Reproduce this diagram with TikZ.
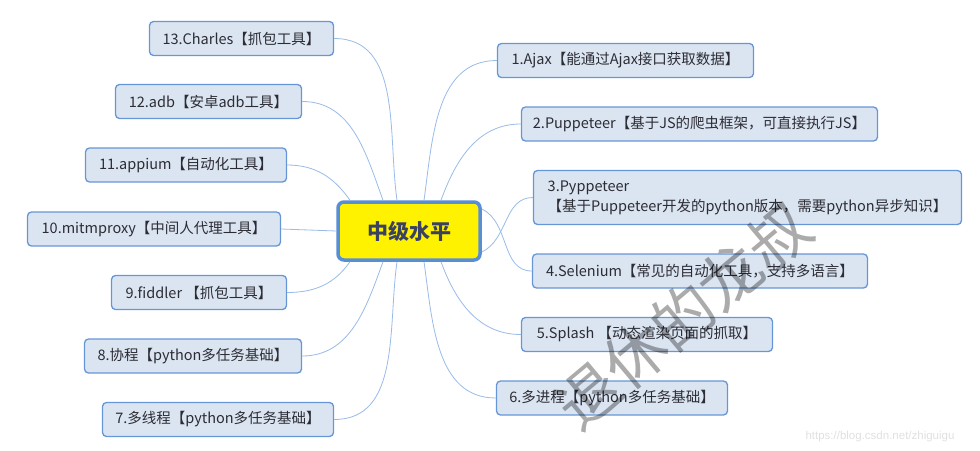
\documentclass[tikz,border=0pt]{standalone}
\usepackage{fontspec}
\newfontfamily\cjkfont{Noto Sans CJK SC}
\newfontfamily\urlfont{Liberation Sans}
\usepackage{xcolor}
\usepackage{tikz}

\definecolor{topicfill}{RGB}{219,229,242}
\definecolor{topicline}{RGB}{102,150,214}
\definecolor{branchline}{RGB}{152,187,232}
\definecolor{centreline}{RGB}{88,142,214}
\definecolor{centretext}{RGB}{58,66,96}
\definecolor{topictext}{RGB}{44,44,52}

\begin{document}
\begin{tikzpicture}[x=1pt,y=-1pt]
\tikzstyle{centre}=[rounded corners=6pt, draw=centreline, line width=3.5pt, fill=yellow, text=centretext, font=\cjkfont\bfseries\fontsize{21}{24}\selectfont, minimum width=142pt, minimum height=58pt]
\tikzstyle{topic}=[rounded corners=4pt, draw=topicline, line width=1.3pt, fill=topicfill, text=topictext, font=\cjkfont\fontsize{14.5}{20}\selectfont, minimum height=34pt, align=left]
\tikzstyle{branch}=[draw=branchline, line width=0.8pt]
\tikzstyle{watermark}=[text=black, text opacity=0.33, font=\cjkfont\fontsize{62}{62}\selectfont, rotate=40]

\useasboundingbox (0,0) rectangle (980,450);

% centre topic
\node[centre] (mid) at (409,231) {中级水平};

% right side
\node[topic, minimum width=256pt] (n1) at (625.5,60.5) {1.Ajax【能通过Ajax接口获取数据】};
\node[topic, minimum width=356pt] (n2) at (699.5,124) {2.Puppeteer【基于JS的爬虫框架，可直接执行JS】};
\node[topic, minimum width=428pt, minimum height=54pt] (n3) at (747.5,197.5) {3.Pyppeteer\\【基于Puppeteer开发的python版本，需要python异步知识】};
\node[topic, minimum width=335pt] (n4) at (700,271) {4.Selenium【常见的自动化工具，支持多语言】};
\node[topic, minimum width=251pt] (n5) at (647,334.5) {5.Splash 【动态渲染页面的抓取】};
\node[topic, minimum width=231pt] (n6) at (612,398) {6.多进程【python多任务基础】};

% left side
\node[topic, minimum width=184pt] (n13) at (241.5,38.5) {13.Charles【抓包工具】};
\node[topic, minimum width=186pt] (n12) at (208.5,101.5) {12.adb【安卓adb工具】};
\node[topic, minimum width=201pt] (n11) at (186,165) {11.appium【自动化工具】};
\node[topic, minimum width=253pt] (n10) at (154,229) {10.mitmproxy【中间人代理工具】};
\node[topic, minimum width=175pt] (n9) at (199,292.5) {9.fiddler 【抓包工具】};
\node[topic, minimum width=217pt] (n8) at (193,356) {8.协程【python多任务基础】};
\node[topic, minimum width=231pt] (n7) at (218,419.5) {7.多线程【python多任务基础】};

% branches
\path[branch] ([xshift=15pt]mid.north) to[out=82, in=180] (n1.west);
\path[branch] ([xshift=32pt]mid.north) to[out=70, in=180] (n2.west);
\path[branch] ([yshift=-21pt]mid.east) to[out=25, in=180] (n3.west);
\path[branch] ([yshift=22pt]mid.east) to[out=-25, in=180] (n4.west);
\path[branch] ([xshift=32pt]mid.south) to[out=-70, in=180] (n5.west);
\path[branch] ([xshift=15pt]mid.south) to[out=-82, in=180] (n6.west);

\path[branch] ([xshift=-12pt]mid.north) to[out=98, in=0] (n13.east);
\path[branch] ([xshift=-26pt]mid.north) to[out=110, in=0] (n12.east);
\path[branch] ([xshift=-59pt]mid.north) to[out=125, in=0] (n11.east);
\path[branch] (mid.west) -- (n10.east);
\path[branch] ([xshift=-59pt]mid.south) to[out=-125, in=0] (n9.east);
\path[branch] ([xshift=-26pt]mid.south) to[out=-110, in=0] (n8.east);
\path[branch] ([xshift=-12pt]mid.south) to[out=-98, in=0] (n7.east);

% watermarks
\node[watermark] (wm) at (683,316) {退休的龙叔};
\node[text=black!12, font=\urlfont\fontsize{11.5}{12}\selectfont] (url) at (880,437) {https://blog.csdn.net/zhiguigu};
\end{tikzpicture}
\end{document}
